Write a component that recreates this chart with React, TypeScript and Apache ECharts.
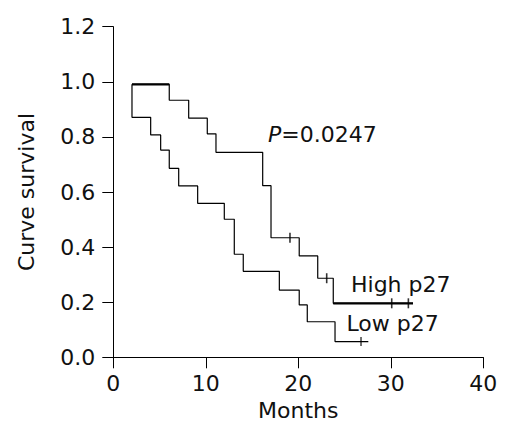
import React, { useEffect, useRef } from "react";
import * as echarts from "echarts";

// Kaplan–Meier step points [month, survival]
const highP27: [number, number][] = [
  [2.02, 0.991], [6.05, 0.933], [8.15, 0.868], [10.16, 0.811], [11.1, 0.744],
  [16.15, 0.623], [17.05, 0.434], [20.1, 0.368], [22.1, 0.287], [23.78, 0.196],
  [32.4, 0.196],
];
const lowP27: [number, number][] = [
  [2.02, 0.991], [2.02, 0.871], [4.04, 0.807], [5.12, 0.752], [6.05, 0.686],
  [7.07, 0.622], [9.12, 0.559], [12.0, 0.501], [13.08, 0.374], [14.05, 0.312],
  [17.95, 0.244], [20.1, 0.19], [20.97, 0.129], [23.97, 0.057], [27.57, 0.057],
];
const highCensored: [number, number][] = [
  [19.1, 0.434], [23.07, 0.287], [30.1, 0.196], [31.9, 0.196],
];
const lowCensored: [number, number][] = [[26.78, 0.057]];

const xMin = 0, xMax = 40, xStep = 10;
const yMin = 0, yMax = 1.2, yStep = 0.2;

const pText = "{i|P}=0.0247";
const highLabel = "High p27";
const lowLabel = "Low p27";
const xTitle = "Months";
const yTitle = "Curve survival";

const FONT = "DejaVu Sans";

export default function App() {
  const ref = useRef<HTMLDivElement>(null);
  useEffect(() => {
    if (!ref.current) return;
    const chart = echarts.init(ref.current, undefined, { renderer: "svg" });
    const axisCommon = {
      axisLine: { show: true, lineStyle: { color: "#000", width: 1 } },
      axisTick: { show: true, inside: false, length: 11, lineStyle: { color: "#000", width: 1 } },
      splitLine: { show: false },
      nameTextStyle: { fontFamily: FONT, fontSize: 22, color: "#111" },
    };
    // heavier plateaus of the high-p27 curve (first and last steps)
    const n = highP27.length;
    const heavyFirst = [[highP27[0][0], highP27[0][1]], [highP27[1][0], highP27[0][1]]];
    const heavyLast = [highP27[n - 2], highP27[n - 1]];
    chart.setOption({
      animation: false,
      backgroundColor: "#fff",
      grid: { left: 113.3, right: 32.7, top: 26.7, bottom: 81.7, containLabel: false },
      xAxis: {
        type: "value",
        min: xMin,
        max: xMax,
        interval: xStep,
        name: xTitle,
        nameLocation: "middle",
        nameGap: 42,
        ...axisCommon,
        axisLabel: { fontFamily: FONT, fontSize: 22, color: "#111", margin: 15 },
      },
      yAxis: {
        type: "value",
        min: yMin,
        max: yMax,
        interval: yStep,
        name: yTitle,
        nameLocation: "middle",
        nameRotate: 90,
        nameGap: 76,
        ...axisCommon,
        axisLabel: {
          fontFamily: FONT,
          fontSize: 22,
          color: "#111",
          margin: 18,
          formatter: (v: number) => v.toFixed(1),
        },
      },
      series: [
        {
          type: "line",
          data: highP27,
          step: "end",
          symbol: "none",
          lineStyle: { color: "#000", width: 1.2 },
        },
        {
          type: "line",
          data: lowP27,
          step: "end",
          symbol: "none",
          lineStyle: { color: "#000", width: 1.2 },
        },
        {
          type: "line",
          data: heavyFirst,
          symbol: "none",
          lineStyle: { color: "#000", width: 2.2 },
        },
        {
          type: "line",
          data: heavyLast,
          symbol: "none",
          lineStyle: { color: "#000", width: 2.2 },
        },
        {
          type: "scatter",
          data: highCensored,
          symbol: "rect",
          symbolSize: [1.6, 10],
          itemStyle: { color: "#000" },
        },
        {
          type: "scatter",
          data: lowCensored,
          symbol: "rect",
          symbolSize: [1.4, 9],
          itemStyle: { color: "#000" },
        },
      ],
      graphic: [
        {
          type: "text",
          x: 268,
          y: 134.7,
          style: {
            text: pText,
            fontFamily: FONT,
            fontSize: 22,
            fill: "#111",
            verticalAlign: "middle",
            rich: { i: { fontStyle: "italic", fontFamily: FONT, fontSize: 22, fill: "#111" } },
          },
        },
        {
          type: "text",
          x: 351,
          y: 284,
          style: { text: highLabel, fontFamily: FONT, fontSize: 22, fill: "#111", verticalAlign: "middle" },
        },
        {
          type: "text",
          x: 346.5,
          y: 323,
          style: { text: lowLabel, fontFamily: FONT, fontSize: 22, fill: "#111", verticalAlign: "middle" },
        },
      ],
    });
    return () => chart.dispose();
  }, []);
  return (
    <div
      ref={ref}
      style={{ position: "absolute", left: 0, top: 0, width: 516, height: 439 }}
    />
  );
}
